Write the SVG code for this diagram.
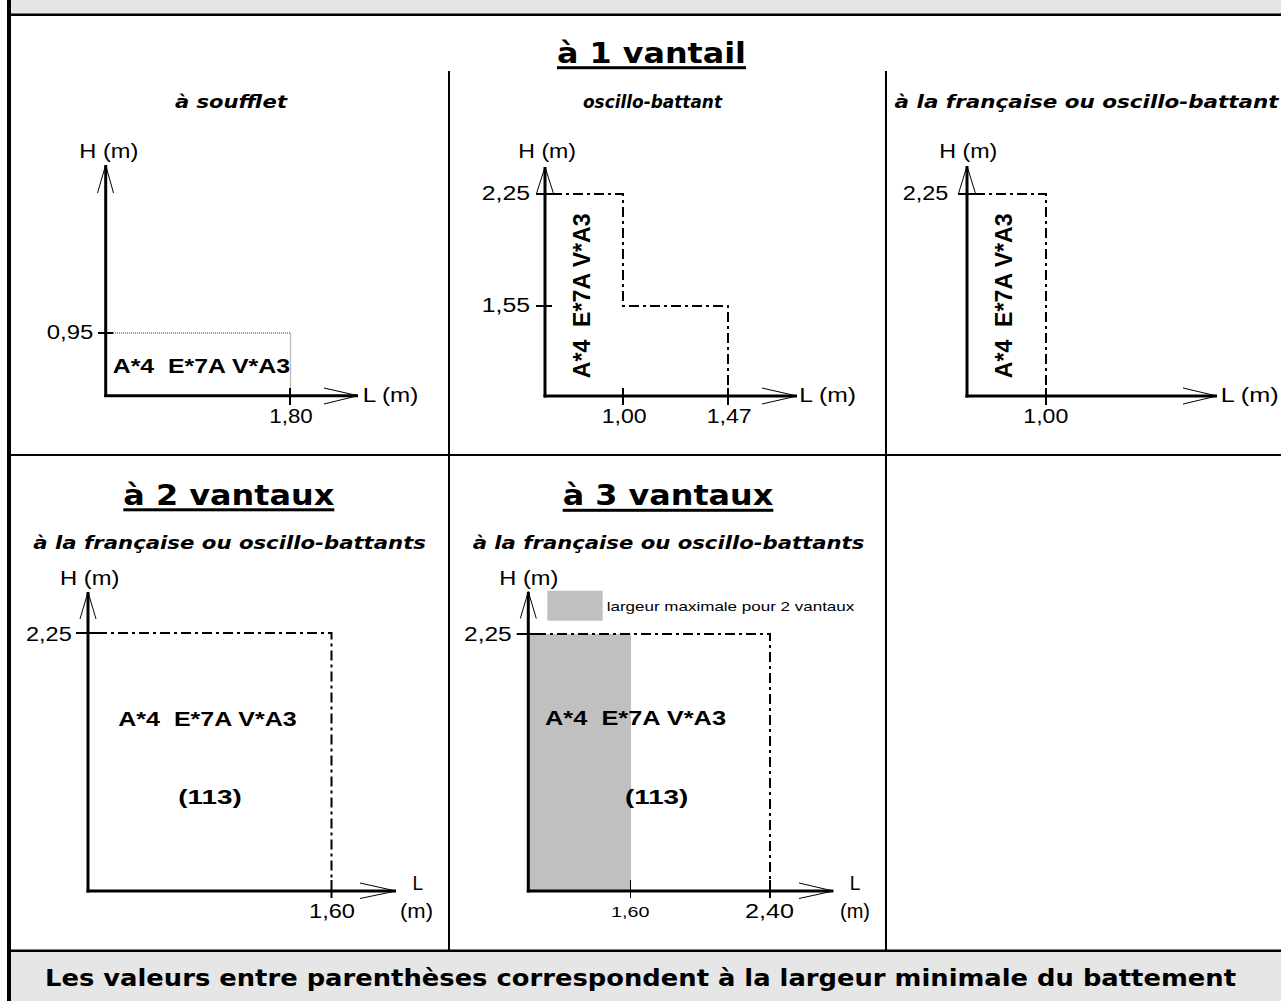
<svg xmlns="http://www.w3.org/2000/svg" width="1281" height="1001" viewBox="0 0 1281 1001">
<style>
.lbl{font-family:"Liberation Sans",Arial,sans-serif;font-size:19.5px;fill:#000}
.bl{font-family:"Liberation Sans",Arial,sans-serif;font-size:19.5px;font-weight:bold;fill:#000}
.ttl{font-family:"DejaVu Sans",Verdana,sans-serif;font-size:28px;font-weight:bold;fill:#000}
.sub{font-family:"DejaVu Sans",Verdana,sans-serif;font-size:18px;font-weight:bold;font-style:italic;fill:#000}
.note{font-family:"DejaVu Sans",Verdana,sans-serif;font-size:23px;font-weight:bold;fill:#000}
.axis{stroke:#000;stroke-width:3;fill:none}
.arr{stroke:#000;stroke-width:1;fill:none}
.tick{stroke:#000;stroke-width:2;fill:none}
.dd{stroke:#000;stroke-width:2;fill:none;stroke-dasharray:10 4 3 4}
.dot{stroke:#7a7a7a;stroke-width:1.3;fill:none;stroke-dasharray:1 1}
.frame{fill:#000}
</style>
<rect width="1281" height="1001" fill="#fff"/>
<g id="frame">
<rect x="11" y="0" width="1270" height="14" fill="#e6e6e6"/>
<rect x="11" y="951" width="1270" height="50" fill="#e6e6e6"/>
<rect class="frame" x="7" y="0" width="4" height="1001"/>
<rect class="frame" x="7" y="13.5" width="1274" height="2.5"/>
<rect class="frame" x="7" y="949.5" width="1274" height="2.5"/>
<rect class="frame" x="11" y="454" width="1270" height="2"/>
<rect class="frame" x="448" y="71" width="2" height="879"/>
<rect class="frame" x="885" y="71" width="2" height="879"/>
</g>
<g id="title-1-vantail">
<text class="ttl" x="557" y="63" textLength="189" lengthAdjust="spacingAndGlyphs">à 1 vantail</text>
<rect x="557" y="66.2" width="189" height="3" fill="#000"/>
</g>
<g id="panel-soufflet">
<text class="sub" x="175" y="108" textLength="112" lengthAdjust="spacingAndGlyphs">à soufflet</text>
<polyline class="dot" points="113,333 290.5,333 290.5,395"/>
<line class="axis" x1="105.7" y1="165" x2="105.7" y2="397"/>
<line class="axis" x1="104.2" y1="395.7" x2="358" y2="395.7"/>
<polyline class="arr" points="97.5,193 105.7,165 113.5,193"/>
<polyline class="arr" points="324,388 358,395.7 324,404"/>
<line class="tick" x1="98" y1="333" x2="113" y2="333"/>
<line class="tick" x1="290" y1="388" x2="290" y2="405"/>
<text class="lbl" x="79.3" y="158.3" textLength="59" lengthAdjust="spacingAndGlyphs">H (m)</text>
<text class="lbl" x="46.7" y="339.3" textLength="46.6" lengthAdjust="spacingAndGlyphs">0,95</text>
<text class="lbl" x="269.3" y="423.3" textLength="43.4" lengthAdjust="spacingAndGlyphs">1,80</text>
<text class="lbl" x="362.7" y="401.7" textLength="55.6" lengthAdjust="spacingAndGlyphs">L (m)</text>
<text class="bl" x="112.7" y="373" textLength="177.3" lengthAdjust="spacingAndGlyphs" xml:space="preserve">A*4  E*7A V*A3</text>
</g>
<g id="panel-oscillo-battant">
<text class="sub" x="583" y="108" textLength="139" lengthAdjust="spacingAndGlyphs">oscillo-battant</text>
<polyline class="dd" points="552,194 623,194 623,306 728,306 728,388"/>
<line class="axis" x1="545" y1="167" x2="545" y2="397.5"/>
<line class="axis" x1="543.5" y1="396" x2="797" y2="396"/>
<polyline class="arr" points="536.5,193.5 545,167 553.5,193.5"/>
<polyline class="arr" points="762,388 797,396 762,404"/>
<line class="tick" x1="536" y1="194" x2="552" y2="194"/>
<line class="tick" x1="536" y1="306" x2="552" y2="306"/>
<line class="tick" x1="623" y1="388" x2="623" y2="405"/>
<line class="tick" x1="728" y1="388" x2="728" y2="405"/>
<text class="lbl" x="518.3" y="158.3" textLength="57.7" lengthAdjust="spacingAndGlyphs">H (m)</text>
<text class="lbl" x="481.7" y="200" textLength="48.3" lengthAdjust="spacingAndGlyphs">2,25</text>
<text class="lbl" x="481.7" y="311.7" textLength="48.3" lengthAdjust="spacingAndGlyphs">1,55</text>
<text class="lbl" x="601.7" y="423.3" textLength="45" lengthAdjust="spacingAndGlyphs">1,00</text>
<text class="lbl" x="706.7" y="423.3" textLength="45" lengthAdjust="spacingAndGlyphs">1,47</text>
<text class="lbl" x="799.3" y="401.7" textLength="56.7" lengthAdjust="spacingAndGlyphs">L (m)</text>
<text class="bl" transform="translate(590,378.3) rotate(-90)" x="0" y="0" textLength="165" lengthAdjust="spacingAndGlyphs" xml:space="preserve" style="font-size:23px">A*4  E*7A V*A3</text>
</g>
<g id="panel-francaise-1">
<text class="sub" x="894.6" y="108" textLength="384" lengthAdjust="spacingAndGlyphs">à la française ou oscillo-battant</text>
<polyline class="dd" points="975,194 1046,194 1046,388"/>
<line class="axis" x1="967" y1="166" x2="967" y2="397.5"/>
<line class="axis" x1="965.5" y1="396" x2="1217" y2="396"/>
<polyline class="arr" points="958.5,193.5 967,166 975.5,193.5"/>
<polyline class="arr" points="1183,388 1217,396 1183,404"/>
<line class="tick" x1="958" y1="194" x2="975" y2="194"/>
<line class="tick" x1="1046" y1="388" x2="1046" y2="405"/>
<text class="lbl" x="939.3" y="158.3" textLength="58" lengthAdjust="spacingAndGlyphs">H (m)</text>
<text class="lbl" x="902.7" y="200" textLength="45.6" lengthAdjust="spacingAndGlyphs">2,25</text>
<text class="lbl" x="1023.3" y="423.3" textLength="45" lengthAdjust="spacingAndGlyphs">1,00</text>
<text class="lbl" x="1220.7" y="401.7" textLength="58" lengthAdjust="spacingAndGlyphs">L (m)</text>
<text class="bl" transform="translate(1011.5,378.3) rotate(-90)" x="0" y="0" textLength="165" lengthAdjust="spacingAndGlyphs" xml:space="preserve" style="font-size:23px">A*4  E*7A V*A3</text>
</g>
<g id="panel-2-vantaux">
<text class="ttl" x="123.3" y="505" textLength="211" lengthAdjust="spacingAndGlyphs">à 2 vantaux</text>
<rect x="123.3" y="508.3" width="211" height="3" fill="#000"/>
<text class="sub" x="33.3" y="549.3" textLength="392.7" lengthAdjust="spacingAndGlyphs">à la française ou oscillo-battants</text>
<polyline class="dd" points="97,633 331.5,633 331.5,880"/>
<line class="axis" x1="88" y1="592" x2="88" y2="892.5"/>
<line class="axis" x1="86.5" y1="891" x2="396" y2="891"/>
<polyline class="arr" points="80,619 88,592 96,619"/>
<polyline class="arr" points="360,883 396,891 360,898.5"/>
<line class="tick" x1="76" y1="633" x2="97" y2="633"/>
<line class="tick" x1="331.5" y1="880" x2="331.5" y2="898"/>
<text class="lbl" x="60" y="585" textLength="59.3" lengthAdjust="spacingAndGlyphs">H (m)</text>
<text class="lbl" x="26" y="640.7" textLength="45.7" lengthAdjust="spacingAndGlyphs">2,25</text>
<text class="lbl" x="309" y="918" textLength="46" lengthAdjust="spacingAndGlyphs">1,60</text>
<text class="lbl" x="412.6" y="890" textLength="10.6" lengthAdjust="spacingAndGlyphs">L</text>
<text class="lbl" x="400" y="918" textLength="33" lengthAdjust="spacingAndGlyphs">(m)</text>
<text class="bl" x="118.3" y="725.5" textLength="178.4" lengthAdjust="spacingAndGlyphs" xml:space="preserve">A*4  E*7A V*A3</text>
<text class="bl" x="178.3" y="804" textLength="63.4" lengthAdjust="spacingAndGlyphs">(113)</text>
</g>
<g id="panel-3-vantaux">
<text class="ttl" x="562.7" y="505" textLength="210.6" lengthAdjust="spacingAndGlyphs">à 3 vantaux</text>
<rect x="562.7" y="508.8" width="210.6" height="3" fill="#000"/>
<text class="sub" x="472.7" y="549.3" textLength="391.6" lengthAdjust="spacingAndGlyphs">à la française ou oscillo-battants</text>
<rect x="547.3" y="590.7" width="55.4" height="30" fill="#c0c0c0"/>
<text class="lbl" x="606.7" y="611" textLength="247.6" lengthAdjust="spacingAndGlyphs" style="font-size:13px">largeur maximale pour 2 vantaux</text>
<rect x="528.3" y="634" width="102.7" height="257" fill="#c0c0c0"/>
<polyline class="dd" points="536,634 770,634 770,880"/>
<line class="axis" x1="528.3" y1="591.7" x2="528.3" y2="892.5"/>
<line class="axis" x1="526.8" y1="891" x2="833.3" y2="891"/>
<polyline class="arr" points="520.3,618.5 528.3,591.7 536.3,618.5"/>
<polyline class="arr" points="799,883 833.3,891 799,898.5"/>
<line class="tick" x1="516.7" y1="634" x2="536" y2="634"/>
<line class="arr" x1="630.5" y1="880" x2="630.5" y2="898"/>
<line class="tick" x1="770" y1="880" x2="770" y2="898"/>
<text class="lbl" x="499.3" y="585" textLength="59" lengthAdjust="spacingAndGlyphs">H (m)</text>
<text class="lbl" x="464" y="640.7" textLength="47.7" lengthAdjust="spacingAndGlyphs">2,25</text>
<text class="lbl" x="611" y="917.3" textLength="38.5" lengthAdjust="spacingAndGlyphs" style="font-size:15px">1,60</text>
<text class="lbl" x="745" y="918" textLength="49" lengthAdjust="spacingAndGlyphs">2,40</text>
<text class="lbl" x="849.7" y="890" textLength="10.6" lengthAdjust="spacingAndGlyphs">L</text>
<text class="lbl" x="840" y="918" textLength="30" lengthAdjust="spacingAndGlyphs">(m)</text>
<text class="bl" x="545" y="724.5" textLength="181" lengthAdjust="spacingAndGlyphs" xml:space="preserve">A*4  E*7A V*A3</text>
<text class="bl" x="625" y="804" textLength="63.3" lengthAdjust="spacingAndGlyphs">(113)</text>
</g>
<g id="note">
<text class="note" x="45" y="986" textLength="1191" lengthAdjust="spacingAndGlyphs">Les valeurs entre parenthèses correspondent à la largeur minimale du battement</text>
</g>
</svg>
